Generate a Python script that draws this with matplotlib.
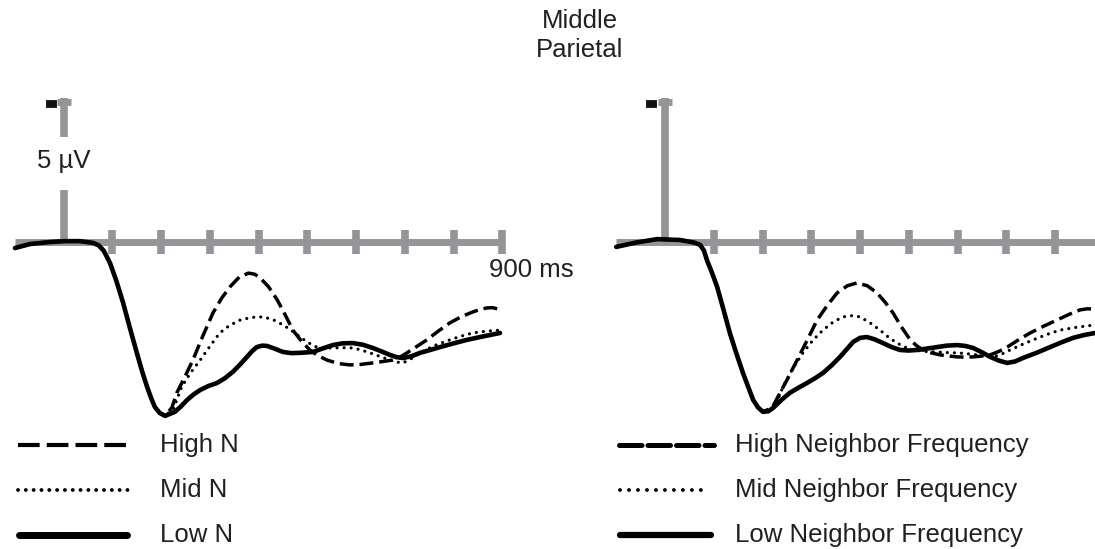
import matplotlib.pyplot as plt
import matplotlib.patheffects as pe

plt.rcParams['font.family'] = ['Liberation Sans', 'DejaVu Sans']

GREY = '#949599'
INK = '#231f20'

# ---- data: time in ms, amplitude in microvolts (negative plotted up)
# left panel (N), shared onset up to the first trough
onset_t_left = [-100, -69, -28, 3, 33, 60, 72, 82, 95, 108, 122, 136, 150, 161, 171, 180, 187, 197, 208]
onset_v_left = [0.21, 0.07, 0.0, -0.03, -0.03, 0.03, 0.12, 0.30, 0.73, 1.35, 2.12, 3.0, 3.85, 4.5, 5.03, 5.45, 5.73, 5.94, 6.04]

low_n_t = [218, 228, 240, 253, 266, 280, 297, 314, 330, 347, 362, 376, 386, 396, 407, 417, 432, 450, 467, 485, 511, 531, 552, 572, 593, 614, 634, 652, 669, 683, 696, 713, 731, 752, 772, 800, 827, 860, 895]
low_n_v = [5.97, 5.9, 5.72, 5.49, 5.30, 5.14, 5.0, 4.9, 4.74, 4.51, 4.25, 3.99, 3.80, 3.65, 3.60, 3.61, 3.70, 3.82, 3.86, 3.85, 3.82, 3.70, 3.58, 3.52, 3.51, 3.57, 3.68, 3.80, 3.92, 4.0, 4.03, 3.97, 3.85, 3.75, 3.65, 3.52, 3.40, 3.28, 3.16]
high_n_t = [222, 232, 248, 265, 285, 306, 324, 341, 360, 379, 392, 403, 420, 438, 455, 470, 488, 505, 522, 540, 563, 587, 610, 634, 655, 675, 690, 704, 725, 745, 768, 792, 815, 839, 855, 868, 880, 891]
high_n_v = [5.75, 5.24, 4.70, 4.10, 3.28, 2.47, 1.95, 1.56, 1.22, 1.08, 1.12, 1.25, 1.55, 2.01, 2.55, 3.06, 3.45, 3.75, 3.95, 4.10, 4.22, 4.27, 4.25, 4.20, 4.15, 4.10, 4.0, 3.85, 3.62, 3.40, 3.10, 2.81, 2.60, 2.43, 2.34, 2.29, 2.28, 2.33]
mid_n_t = [225, 242, 260, 280, 300, 320, 340, 362, 385, 409, 430, 450, 468, 485, 502, 519, 535, 552, 572, 593, 610, 628, 648, 669, 683, 696, 713, 731, 760, 792, 815, 839, 865, 895]
mid_n_v = [5.8, 5.03, 4.55, 4.10, 3.62, 3.16, 2.90, 2.71, 2.62, 2.60, 2.70, 2.88, 3.08, 3.30, 3.50, 3.65, 3.68, 3.68, 3.67, 3.68, 3.75, 3.85, 3.97, 4.10, 4.17, 4.20, 4.05, 3.85, 3.60, 3.40, 3.27, 3.16, 3.10, 3.06]

# right panel (neighbor frequency)
onset_t_right = [-100, -60, -16, 31, 60, 72, 80, 86, 96, 107, 120, 133, 147, 160, 171, 181, 191, 201]
onset_v_right = [0.17, 0.02, -0.10, -0.07, 0.02, 0.10, 0.30, 0.63, 1.05, 1.56, 2.35, 3.16, 3.90, 4.55, 5.05, 5.49, 5.75, 5.90]

low_f_t = [212, 222, 238, 256, 274, 291, 308, 324, 342, 359, 373, 386, 400, 414, 430, 447, 465, 482, 500, 517, 538, 558, 578, 599, 616, 632, 650, 667, 685, 702, 718, 734, 762, 790, 814, 837, 860, 882]
low_f_v = [5.88, 5.76, 5.50, 5.24, 5.06, 4.90, 4.73, 4.55, 4.28, 3.99, 3.72, 3.47, 3.33, 3.30, 3.38, 3.51, 3.65, 3.75, 3.77, 3.75, 3.70, 3.65, 3.60, 3.58, 3.61, 3.68, 3.83, 3.99, 4.12, 4.20, 4.15, 4.03, 3.85, 3.65, 3.48, 3.33, 3.23, 3.16]
high_f_t = [220, 236, 253, 271, 292, 312, 333, 353, 374, 394, 415, 435, 452, 468, 485, 503, 516, 529, 546, 564, 582, 599, 616, 632, 650, 667, 685, 702, 725, 749, 776, 804, 828, 851, 866, 882]
high_f_v = [5.75, 5.24, 4.70, 4.10, 3.40, 2.71, 2.20, 1.77, 1.52, 1.42, 1.52, 1.77, 2.10, 2.47, 2.95, 3.40, 3.60, 3.75, 3.85, 3.92, 3.96, 3.99, 4.0, 3.99, 3.96, 3.92, 3.80, 3.65, 3.40, 3.16, 2.93, 2.71, 2.52, 2.36, 2.32, 2.33]
mid_f_t = [225, 242, 262, 283, 303, 324, 345, 365, 383, 400, 420, 441, 458, 476, 492, 509, 533, 558, 578, 599, 620, 640, 656, 673, 690, 708, 730, 755, 782, 810, 845, 882]
mid_f_v = [5.75, 5.03, 4.40, 3.85, 3.42, 3.06, 2.78, 2.60, 2.56, 2.60, 2.80, 3.06, 3.30, 3.51, 3.65, 3.75, 3.80, 3.82, 3.84, 3.85, 3.88, 3.92, 3.96, 3.99, 3.90, 3.75, 3.58, 3.40, 3.22, 3.06, 2.96, 2.88]

tick_times = [100, 200, 300, 400, 500, 600, 700, 800, 900]
labels_left = ['High N', 'Mid N', 'Low N']
labels_right = ['High Neighbor Frequency', 'Mid Neighbor Frequency', 'Low Neighbor Frequency']

W, H = 1095, 549
fig = plt.figure(figsize=(W / 100, H / 100), dpi=100)

XLIM = (-120, 930)
YLIM = (6.53, -5.28)   # inverted: negative up
ax_w = 1050 * 0.4875 / W
ax_b = 1 - 430 / H
ax_h = 340 / H


def draw_panel(ax, onset_t, onset_v, series, split_axis):
    ax.set_xlim(*XLIM)
    ax.set_ylim(*YLIM)
    ax.axis('off')
    # baseline, ticks and voltage axis
    ax.plot([-100, 900], [0, 0], color=GREY, lw=5, solid_capstyle='butt', zorder=1)
    ax.vlines(tick_times, -0.40, 0.40, color=GREY, lw=5.5, zorder=1)
    if split_axis:
        ax.plot([0, 0], [-5.0, -3.65], color=GREY, lw=5.5, solid_capstyle='butt', zorder=1)
        ax.plot([0, 0], [-1.8, 0.1], color=GREY, lw=5.5, solid_capstyle='butt', zorder=1)
    else:
        ax.plot([0, 0], [-5.0, 0.1], color=GREY, lw=5.5, solid_capstyle='butt', zorder=1)
    ax.plot([-14, 14], [-4.88, -4.88], color=GREY, lw=5, solid_capstyle='butt', zorder=1)

    for t, v, style in series:
        tt = onset_t + t
        vv = onset_v + v
        if style == 'solid':
            ax.plot(tt, vv, color='black', lw=3.3, solid_joinstyle='round',
                    solid_capstyle='round', zorder=3)
        elif style == 'dashed':
            ax.plot(tt, vv, color='black', lw=2.5, dashes=(4.0, 1.7),
                    dash_capstyle='butt', zorder=2)
        else:
            ax.plot(tt, vv, color='black', lw=2.3, dashes=(0.01, 2.2),
                    dash_capstyle='round', zorder=2)


ax_l = fig.add_axes([5.2 / W, ax_b, ax_w, ax_h])
draw_panel(ax_l, onset_t_left, onset_v_left,
           [(high_n_t, high_n_v, 'dashed'), (mid_n_t, mid_n_v, 'dotted'),
            (low_n_t, low_n_v, 'solid')], True)

ax_r = fig.add_axes([606.5 / W, ax_b, ax_w, ax_h])
draw_panel(ax_r, onset_t_right, onset_v_right,
           [(high_f_t, high_f_v, 'dashed'), (mid_f_t, mid_f_v, 'dotted'),
            (low_f_t, low_f_v, 'solid')], False)

# overlay in pixel coordinates for labels and the legend keys
ov = fig.add_axes([0, 0, 1, 1])
ov.set_xlim(0, W)
ov.set_ylim(H, 0)
ov.axis('off')
ov.patch.set_alpha(0)

ov.text(580, 21, 'Middle', ha='center', va='center', fontsize=18.5, color=INK)
ov.text(580, 50, 'Parietal', ha='center', va='center', fontsize=18.5, color=INK)
ov.text(64, 161, '5 \u00b5V', ha='center', va='center', fontsize=18.5, color=INK)
ov.text(489, 270, '900 ms', ha='left', va='center', fontsize=18.5, color=INK)
for x0 in (51, 651):
    ov.text(x0, 103.5, '-', ha='center', va='center', fontsize=15, fontweight='bold',
            family='DejaVu Sans', color='#111111',
            path_effects=[pe.withStroke(linewidth=3.5, foreground='#111111',
                                        joinstyle='miter')])

rows = [445, 490, 535]
# left legend keys
ov.plot([18, 128], [rows[0]] * 2, color='black', lw=3, dashes=(5.2, 1.7), dash_capstyle='butt')
ov.plot([18, 128], [rows[1]] * 2, color='black', lw=2.8, dashes=(0.01, 2.0), dash_capstyle='round')
ov.plot([19, 127], [rows[2]] * 2, color='black', lw=5, solid_capstyle='round')
# right legend keys
ov.plot([619, 714], [rows[0]] * 2, color='black', lw=3.6, dashes=(4.5, 1.2), dash_capstyle='round')
ov.plot([620, 706], [rows[1]] * 2, color='black', lw=2.8, dashes=(0.01, 2.3), dash_capstyle='round')
ov.plot([620, 711], [rows[2]] * 2, color='black', lw=4.5, solid_capstyle='round')

for y, lab in zip(rows, labels_left):
    ov.text(160, y, lab, ha='left', va='center', fontsize=18.5, color=INK)
for y, lab in zip(rows, labels_right):
    ov.text(735, y, lab, ha='left', va='center', fontsize=18.5, color=INK)

fig.savefig('out.png', dpi=100)
